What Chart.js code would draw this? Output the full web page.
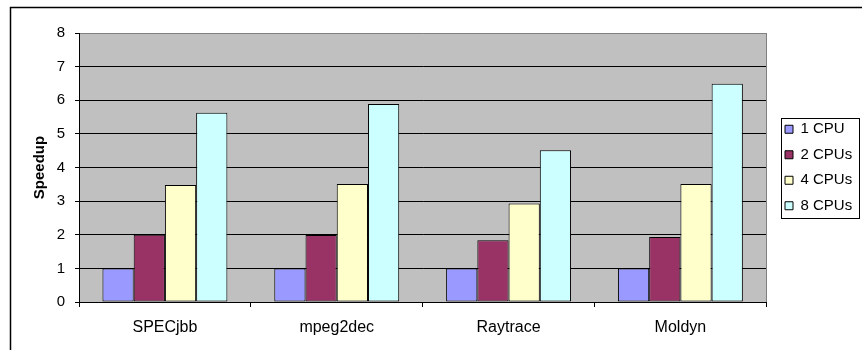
<!DOCTYPE html>
<html>
<head>
<meta charset="utf-8">
<title>Speedup</title>
<script src="https://cdn.jsdelivr.net/npm/chart.js@4.4.1/dist/chart.umd.min.js"></script>
<style>
  html, body { margin: 0; padding: 0; background: #fff; }
  #wrap { width: 862px; height: 350px; position: relative; }
</style>
</head>
<body>
<div id="wrap"><canvas id="speedupChart"></canvas></div>
<script>
// Chart data
const categories = ['SPECjbb', 'mpeg2dec', 'Raytrace', 'Moldyn'];
const seriesNames = ['1 CPU', '2 CPUs', '4 CPUs', '8 CPUs'];
const cpu1 = [1, 1, 1, 1];
const cpu2 = [2.0, 1.99, 1.84, 1.93];
const cpu4 = [3.48, 3.51, 2.93, 3.51];
const cpu8 = [5.63, 5.89, 4.51, 6.49];
const yTicks = [0, 1, 2, 3, 4, 5, 6, 7, 8];

const seriesValues = [cpu1, cpu2, cpu4, cpu8];
const seriesColors = ['#9999FF', '#993366', '#FFFFCC', '#CCFFFF'];
const FONT = "'Liberation Sans', Arial, sans-serif";

// grey plot area, outer frame and legend frame (Excel look)
const excelFrame = {
    id: 'excelFrame',
    afterLayout(chart) {
        // push the legend a little right of the plot area
        const lg = chart.legend;
        const shift = 785 - (lg.left + lg.options.labels.padding);
        lg.left += shift;
        lg.right += shift;
    },
    beforeDraw(chart) {
        const ctx = chart.ctx;
        const a = chart.chartArea;
        ctx.save();
        ctx.fillStyle = '#C0C0C0';
        ctx.fillRect(a.left, a.top, a.right - a.left, a.bottom - a.top);
        // outer chart frame (only top and left are in view)
        ctx.strokeStyle = '#000';
        ctx.lineWidth = 1.5;
        ctx.beginPath();
        ctx.moveTo(10.5, 350);
        ctx.lineTo(10.5, 7.5);
        ctx.lineTo(862, 7.5);
        ctx.stroke();
        ctx.restore();
    },
    afterDraw(chart) {
        const ctx = chart.ctx;
        const a = chart.chartArea;
        ctx.save();
        // plot area border, right side
        ctx.strokeStyle = '#808080';
        ctx.lineWidth = 1;
        ctx.beginPath();
        ctx.moveTo(Math.round(a.right) + 0.5, a.top);
        ctx.lineTo(Math.round(a.right) + 0.5, a.bottom);
        ctx.stroke();
        // legend frame
        const boxes = chart.legend.legendHitBoxes;
        if (boxes && boxes.length) {
            const l = Math.min(...boxes.map(b => b.left)) - 4;
            const r = Math.max(...boxes.map(b => b.left + b.width)) + 7;
            const t = Math.min(...boxes.map(b => b.top)) - 4;
            const btm = Math.max(...boxes.map(b => b.top + b.height)) + 4;
            ctx.strokeStyle = '#000';
            ctx.strokeRect(Math.round(l) + 0.5, Math.round(t) + 0.5, Math.round(r - l), Math.round(btm - t));
        }
        ctx.restore();
    }
};

new Chart(document.getElementById('speedupChart'), {
    type: 'bar',
    data: {
        labels: categories,
        datasets: seriesNames.map((name, i) => ({
            label: name,
            data: seriesValues[i],
            backgroundColor: seriesColors[i],
            borderColor: '#000',
            borderWidth: 1,
            borderSkipped: false,
            categoryPercentage: 0.727,
            barPercentage: 1
        }))
    },
    options: {
        responsive: true,
        maintainAspectRatio: false,
        animation: false,
        layout: { padding: { left: 0, top: 33, right: 8, bottom: 0 } },
        plugins: {
            legend: {
                position: 'right',
                fullSize: false,
                labels: {
                    boxWidth: 8,
                    boxHeight: 8,
                    padding: 10.5,
                    color: '#000',
                    font: { family: FONT, size: 15 }
                }
            },
            tooltip: { enabled: false }
        },
        scales: {
            x: {
                grid: {
                    offset: true,
                    drawOnChartArea: false,
                    tickLength: 5,
                    color: '#000'
                },
                border: { color: '#000', width: 1 },
                ticks: {
                    color: '#000',
                    padding: 11,
                    font: { family: FONT, size: 16 }
                },
                afterFit(scale) { scale.height = 48; }
            },
            y: {
                min: 0,
                max: 8,
                afterBuildTicks(scale) { scale.ticks = yTicks.map(v => ({ value: v })); },
                grid: {
                    color: ctx => (ctx.tick && ctx.tick.value === 8 ? '#808080' : '#000'),
                    tickColor: '#000',
                    tickLength: 4
                },
                border: { color: '#000', width: 1 },
                ticks: {
                    color: '#000',
                    padding: 10,
                    font: { family: FONT, size: 15 }
                },
                title: {
                    display: true,
                    text: 'Speedup',
                    color: '#000',
                    padding: { top: 31, bottom: 0 },
                    font: { family: FONT, size: 15, weight: 'bold' }
                },
                afterFit(scale) { scale.width = 79; }
            }
        }
    },
    plugins: [excelFrame]
});
</script>
</body>
</html>
